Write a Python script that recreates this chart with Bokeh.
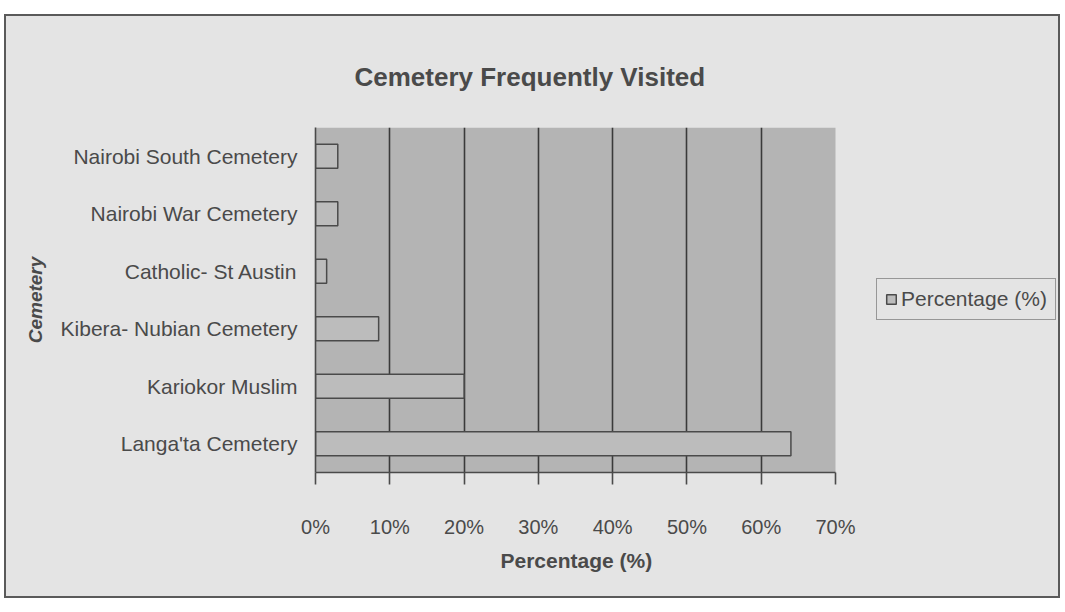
from bokeh.plotting import figure
from bokeh.models import (Range1d, FactorRange, FixedTicker, PrintfTickFormatter, Legend,
                          LegendItem, BoxAnnotation, Title)
from bokeh.embed import file_html
from bokeh.resources import INLINE

# ---- data ----
cemeteries = ["Nairobi South Cemetery", "Nairobi War Cemetery", "Catholic- St Austin",
              "Kibera- Nubian Cemetery", "Kariokor Muslim", "Langa'ta Cemetery"]
percentages = [3.0, 3.0, 1.5, 8.5, 20.0, 64.0]
x_ticks = [0, 10, 20, 30, 40, 50, 60, 70]
title_text = "Cemetery Frequently Visited"
x_label = "Percentage (%)"
y_label = "Cemetery"
series_name = "Percentage (%)"

BG = "#e4e4e4"
PLOT_BG = "#b4b4b4"
BAR = "#bcbcbc"
LINE = "#4a4a4a"
TXT = "#4a4a4a"
SANS = "Liberation Sans"

FIG_W, FIG_H = 1056, 584
BORDER = 2
LEFT, TOP, BOTTOM = 309, 111, 128
AXIS_PX = 520  # pixel length of the 0-70 % axis
x_end = x_ticks[-1] * (FIG_W - LEFT) / AXIS_PX  # frame extends right to hold the legend

p = figure(width=FIG_W, height=FIG_H, output_backend="svg", toolbar_location=None,
           y_range=FactorRange(factors=list(reversed(cemeteries)), range_padding=0),
           x_range=Range1d(0, x_end),
           min_border_left=LEFT, min_border_right=0, min_border_top=TOP, min_border_bottom=BOTTOM,
           background_fill_color=BG, border_fill_color=BG,
           styles={"border": f"{BORDER}px solid #5a5a5a", "margin-top": "14px",
                   "margin-left": "4px", "background-color": BG})
p.outline_line_color = None

# grey plot area (0 - 70 %)
p.add_layout(BoxAnnotation(left=x_ticks[0], right=x_ticks[-1], fill_color=PLOT_BG,
                           fill_alpha=1.0, line_color=None, level="image"))

r = p.hbar(y=cemeteries, right=percentages, left=0, height=0.42,
           fill_color=BAR, line_color=LINE, line_width=1.5)

# title
p.title.text = title_text
p.title.align = "left"
p.title.offset = 39
p.title.standoff = 72
p.title.text_font = SANS
p.title.text_font_style = "bold"
p.title.text_font_size = "26px"
p.title.text_color = TXT

# grid
p.ygrid.grid_line_color = None
p.xgrid.grid_line_color = "#3a3a3a"
p.xgrid.grid_line_width = 1.6
p.xgrid.ticker = FixedTicker(ticks=x_ticks[1:-1])

# x axis
p.xaxis.bounds = (x_ticks[0], x_ticks[-1])
p.xaxis.ticker = FixedTicker(ticks=x_ticks)
p.xaxis.formatter = PrintfTickFormatter(format="%d%%")
p.xaxis.axis_line_color = LINE
p.xaxis.axis_line_width = 1.6
p.xaxis.major_tick_line_color = LINE
p.xaxis.major_tick_line_width = 1.6
p.xaxis.major_tick_in = 0
p.xaxis.major_tick_out = 12
p.xaxis.minor_tick_line_color = None
p.xaxis.major_label_standoff = 31
p.xaxis.major_label_text_font = SANS
p.xaxis.major_label_text_font_size = "20px"
p.xaxis.major_label_text_color = TXT

# x axis title, placed under the 0-70 % span
p.add_layout(Title(text=x_label, align="left", offset=185, standoff=12,
                   text_font=SANS, text_font_style="bold", text_font_size="21px",
                   text_color=TXT), "below")

# y axis (category names)
p.yaxis.axis_line_color = LINE
p.yaxis.axis_line_width = 1.6
p.yaxis.major_tick_line_color = None
p.yaxis.minor_tick_line_color = None
p.yaxis.major_label_standoff = 12
p.yaxis.major_label_text_font = SANS
p.yaxis.major_label_text_font_size = "21px"
p.yaxis.major_label_text_color = TXT
p.yaxis.axis_label = y_label
p.yaxis.axis_label_text_font = SANS
p.yaxis.axis_label_text_font_style = "bold italic"
p.yaxis.axis_label_text_font_size = "19px"
p.yaxis.axis_label_text_color = TXT
p.yaxis.axis_label_standoff = 12

# legend to the right of the grey plot area
legend = Legend(items=[LegendItem(label=series_name, renderers=[r])],
                location=(561, 152), orientation="vertical",
                background_fill_color=BG, background_fill_alpha=1.0,
                border_line_color=LINE, border_line_width=1.5,
                label_text_font=SANS, label_text_font_size="21px", label_text_color=TXT,
                glyph_width=12, glyph_height=12, label_standoff=4,
                padding=8, margin=0, spacing=0)
p.add_layout(legend)

open("out.html", "w").write(file_html(p, INLINE))
